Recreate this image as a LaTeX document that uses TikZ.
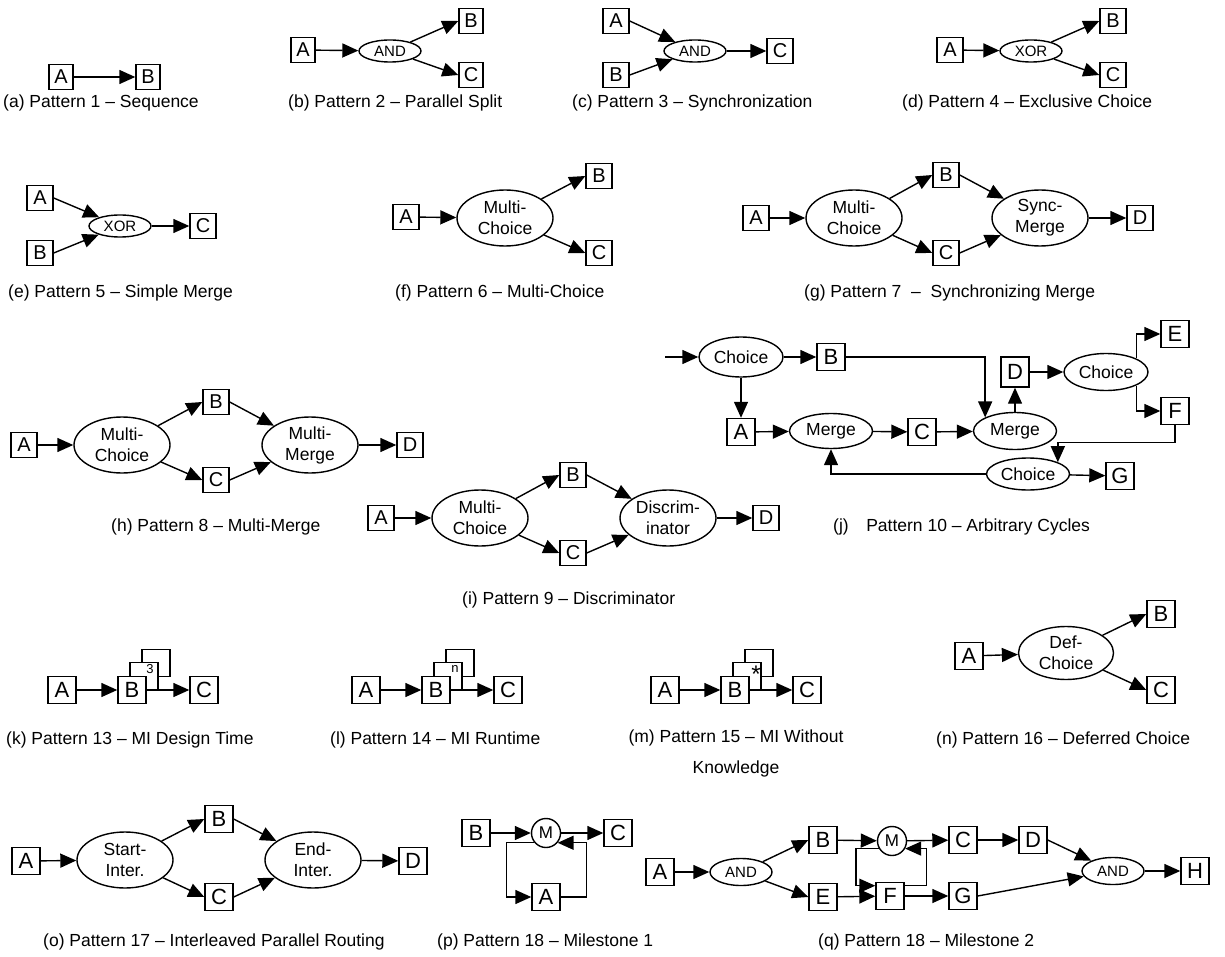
\documentclass[tikz,border=0pt]{standalone}
\usepackage{fontspec}
\setmainfont{Liberation Sans}
\usetikzlibrary{arrows.meta,shapes.geometric}
\newcommand\capsize{\fontsize{17.5}{21}\selectfont}
\tikzset{
  task/.style={draw,line width=1.4pt,fill=white,minimum width=26pt,minimum height=25pt,inner sep=0pt,font=\fontsize{20}{20}\selectfont},
  bigtask/.style={task,minimum width=28pt,minimum height=27pt,font=\fontsize{22}{22}\selectfont},
  gate/.style={draw,ellipse,line width=1.4pt,fill=white,inner sep=0pt,minimum width=62pt,minimum height=22pt,font=\fontsize{15}{15}\selectfont},
  choice/.style={draw,ellipse,line width=1.4pt,fill=white,inner sep=0pt,minimum width=96pt,minimum height=56pt,align=center,font=\fontsize{17.5}{21}\selectfont},
  mstone/.style={draw,circle,line width=1.4pt,fill=white,inner sep=0pt,minimum size=29pt,font=\fontsize{17}{17}\selectfont},
  flow/.style={-{Triangle[length=16pt,width=14pt]},line width=1.4pt},
  captext/.style={anchor=west,inner sep=0pt,font=\capsize},
}
\begin{document}
\begin{tikzpicture}[x=1pt,y=-1pt]
\useasboundingbox (0,0) rectangle (1225,957);

\node[task,minimum width=24pt] (aA) at (61,77) {A};
\node[task,minimum width=24pt] (aB) at (148,77) {B};
\draw[flow] (aA) -- (aB);
\node[captext] (aCap) at (3,103) {(a) Pattern 1 -- Sequence};

\node[task,minimum width=24pt] (bA) at (303,50) {A};
\node[gate] (bAnd) at (390,51) {AND};
\node[task,minimum width=24pt] (bB) at (471,21) {B};
\node[task,minimum width=24pt] (bC) at (471,75) {C};
\draw[flow] (bA) -- (bAnd);
\draw[flow] (bAnd) -- (bB.west);
\draw[flow] (bAnd) -- (bC.west);
\node[captext] (bCap) at (288,103) {(b) Pattern 2 -- Parallel Split};

\node[task] (cA) at (616,21) {A};
\node[task] (cB) at (616,75) {B};
\node[gate] (cAnd) at (695,51) {AND};
\node[task] (cC) at (780,51) {C};
\draw[flow] (cA.east) -- (cAnd);
\draw[flow] (cB.east) -- (cAnd);
\draw[flow] (cAnd) -- (cC);
\node[captext] (cCap) at (572,103) {(c) Pattern 3 -- Synchronization};

\node[task] (dA) at (950,50) {A};
\node[gate] (dXor) at (1031,51) {XOR};
\node[task] (dB) at (1113,21) {B};
\node[task] (dC) at (1113,75) {C};
\draw[flow] (dA) -- (dXor);
\draw[flow] (dXor) -- (dB.west);
\draw[flow] (dXor) -- (dC.west);
\node[captext] (dCap) at (902,103) {(d) Pattern 4 -- Exclusive Choice};

\node[task] (eA) at (40,198) {A};
\node[task] (eB) at (40,253) {B};
\node[gate] (eXor) at (120,226) {XOR};
\node[task] (eC) at (203,226) {C};
\draw[flow] (eA.east) -- (eXor);
\draw[flow] (eB.east) -- (eXor);
\draw[flow] (eXor) -- (eC);
\node[captext] (eCap) at (8,293) {(e) Pattern 5 -- Simple Merge};

\node[task] (fA) at (406,217) {A};
\node[choice] (fMC) at (505,218) {Multi-\\Choice};
\node[task] (fB) at (599,176) {B};
\node[task] (fC) at (599,253) {C};
\draw[flow] (fA) -- (fMC);
\draw[flow] (fMC) -- (fB.west);
\draw[flow] (fMC) -- (fC.west);
\node[captext] (fCap) at (395,293) {(f) Pattern 6 -- Multi-Choice};

\node[task] (gA) at (756,218) {A};
\node[choice] (gMC) at (854,218) {Multi-\\Choice};
\node[task] (gB) at (946,175) {B};
\node[task] (gC) at (946,253) {C};
\node[choice] (gSM) at (1040,218) {Sync-\\Merge};
\node[task] (gD) at (1140,218) {D};
\draw[flow] (gA) -- (gMC);
\draw[flow] (gMC) -- (gB.west);
\draw[flow] (gMC) -- (gC.west);
\draw[flow] (gB.east) -- (gSM);
\draw[flow] (gC.east) -- (gSM);
\draw[flow] (gSM) -- (gD);
\node[captext] (gCap) at (804,293) {(g) Pattern 7 ~--~ Synchronizing Merge};

\node[task] (hA) at (24,445) {A};
\node[choice] (hMC) at (122,445) {Multi-\\Choice};
\node[task] (hB) at (216,402) {B};
\node[task] (hC) at (216,480) {C};
\node[choice] (hMM) at (310,445) {Multi-\\Merge};
\node[task] (hD) at (410,445) {D};
\draw[flow] (hA) -- (hMC);
\draw[flow] (hMC) -- (hB.west);
\draw[flow] (hMC) -- (hC.west);
\draw[flow] (hB.east) -- (hMM);
\draw[flow] (hC.east) -- (hMM);
\draw[flow] (hMM) -- (hD);
\node[captext] (hCap) at (111,527) {(h) Pattern 8 -- Multi-Merge};

\node[task] (iA) at (381,518) {A};
\node[choice] (iMC) at (480,518) {Multi-\\Choice};
\node[task] (iB) at (573,475) {B};
\node[task] (iC) at (573,553) {C};
\node[choice] (iDI) at (668,518) {Discrim-\\inator};
\node[task] (iD) at (766,518) {D};
\draw[flow] (iA) -- (iMC);
\draw[flow] (iMC) -- (iB.west);
\draw[flow] (iMC) -- (iC.west);
\draw[flow] (iB.east) -- (iDI);
\draw[flow] (iC.east) -- (iDI);
\draw[flow] (iDI) -- (iD);
\node[captext] (iCap) at (462,600) {(i) Pattern 9 -- Discriminator};

\coordinate (jIn) at (665,357);
\node[choice,minimum width=84pt,minimum height=40pt] (jC1) at (741,357) {Choice};
\node[bigtask] (jB) at (831,357) {B};
\node[bigtask] (jA) at (741,432) {A};
\node[choice,minimum width=83pt,minimum height=35pt] (jM1) at (831,431) {Merge};
\node[bigtask] (jC) at (922,432) {C};
\node[choice,minimum width=83pt,minimum height=37pt] (jM2) at (1015,431) {Merge};
\node[bigtask,minimum height=30pt] (jD) at (1015,372) {D};
\node[choice,minimum width=84pt,minimum height=37pt] (jC2) at (1106,372) {Choice};
\node[bigtask] (jE) at (1175,334) {E};
\node[bigtask] (jF) at (1175,411) {F};
\node[choice,minimum width=83pt,minimum height=32pt] (jC3) at (1028,474) {Choice};
\node[bigtask] (jG) at (1120,476) {G};
\draw[flow] (jIn) -- (jC1);
\draw[flow] (jC1) -- (jB);
\draw[flow] (jC1) -- (jA);
\draw[flow] (jA) -- (jM1);
\draw[flow] (jM1) -- (jC);
\draw[flow] (jC) -- (jM2);
\draw[flow] (jB.east) -| (jM2.north west);
\draw[flow] (jM2) -- (jD);
\draw[flow] (jD) -- (jC2);
\draw[flow] (jC2.north east) |- (jE);
\draw[flow] (jC2.south east) |- (jF);
\draw[flow] (jF.south) -- ++(0,17) -| (jC3.north east);
\draw[flow] (jC3) -- (jG);
\draw[flow] (jC3.west) -| (jM1.south);
\node[captext] (jCap) at (833,527) {(j)\quad Pattern 10 -- Arbitrary Cycles};

\node[bigtask] (kA) at (62,690) {A};
\node[bigtask] (kB3) at (156,663) {};
\node[bigtask] (kB2) at (144,676) {};
\node[bigtask] (kB) at (132,690) {B};
\node (kN) at (150,669) {\fontsize{13}{13}\selectfont 3};
\node[bigtask] (kC) at (204,690) {C};
\draw[flow] (kA) -- (kB);
\draw[flow] (kB) -- (kC);
\node[captext] (kCap) at (6,740) {(k) Pattern 13 -- MI Design Time};

\node[bigtask] (lA) at (366,690) {A};
\node[bigtask] (lB3) at (460,663) {};
\node[bigtask] (lB2) at (448,676) {};
\node[bigtask] (lB) at (436,690) {B};
\node (lN) at (455,669) {\fontsize{13}{13}\selectfont n};
\node[bigtask] (lC) at (508,690) {C};
\draw[flow] (lA) -- (lB);
\draw[flow] (lB) -- (lC);
\node[captext] (lCap) at (330,740) {(l) Pattern 14 -- MI Runtime};

\node[bigtask] (mA) at (665,690) {A};
\node[bigtask] (mB3) at (759,663) {};
\node[bigtask] (mB2) at (747,676) {};
\node[bigtask] (mB) at (735,690) {B};
\node (mN) at (756,674) {\fontsize{24}{24}\selectfont *};
\node[bigtask] (mC) at (807,690) {C};
\draw[flow] (mA) -- (mB);
\draw[flow] (mB) -- (mC);
\node[font=\fontsize{17.5}{31}\selectfont,align=center,anchor=north,inner sep=0pt] (mCap) at (736,730) {(m) Pattern 15 -- MI Without\\Knowledge};

\node[bigtask] (nA) at (969,656) {A};
\node[choice,minimum width=95pt,minimum height=53pt] (nDC) at (1066,653) {Def-\\Choice};
\node[bigtask] (nB) at (1161,614) {B};
\node[bigtask] (nC) at (1161,690) {C};
\draw[flow] (nA) -- (nDC);
\draw[flow] (nDC) -- (nB.west);
\draw[flow] (nDC) -- (nC.west);
\node[captext] (nCap) at (936,740) {(n) Pattern 16 -- Deferred Choice};

\node[bigtask] (oA) at (26,861) {A};
\node[choice] (oSI) at (125,860) {Start-\\Inter.};
\node[bigtask] (oB) at (219,819) {B};
\node[bigtask] (oC) at (219,897) {C};
\node[choice] (oEI) at (313,860) {End-\\Inter.};
\node[bigtask] (oD) at (413,861) {D};
\draw[flow] (oA) -- (oSI);
\draw[flow] (oSI) -- (oB.west);
\draw[flow] (oSI) -- (oC.west);
\draw[flow] (oB.east) -- (oEI);
\draw[flow] (oC.east) -- (oEI);
\draw[flow] (oEI) -- (oD);
\node[captext] (oCap) at (43,942) {(o) Pattern 17 -- Interleaved Parallel Routing};

\node[bigtask] (pB) at (476,833) {B};
\node[mstone] (pM) at (546,833) {M};
\node[bigtask] (pC) at (618,833) {C};
\node[bigtask] (pA) at (546,897) {A};
\draw[flow] (pB) -- (pM);
\draw[flow] (pM) -- (pC);
\draw[flow] (pM.220) -- ++(-28,0) |- (pA.west);
\draw[flow] (pA.east) -- ++(26,0) |- (pM.-40);
\node[captext] (pCap) at (437,942) {(p) Pattern 18 -- Milestone 1};

\node[bigtask] (qA) at (660,872) {A};
\node[gate,minimum height=27pt] (qAnd1) at (741,872) {AND};
\node[bigtask] (qB) at (823,840) {B};
\node[bigtask] (qE) at (823,897) {E};
\node[mstone] (qM) at (892,841) {M};
\node[bigtask] (qC) at (963,840) {C};
\node[bigtask] (qD) at (1033,840) {D};
\node[bigtask] (qF) at (890,896) {F};
\node[bigtask] (qG) at (963,896) {G};
\node[gate,minimum height=27pt] (qAnd2) at (1113,871) {AND};
\node[bigtask] (qH) at (1195,871) {H};
\draw[flow] (qA) -- (qAnd1);
\draw[flow] (qAnd1) -- (qB.west);
\draw[flow] (qAnd1) -- (qE.west);
\draw[flow] (qB) -- (qM);
\draw[flow] (qM) -- (qC);
\draw[flow] (qC) -- (qD);
\draw[flow] (qD.east) -- (qAnd2);
\draw[flow] (qE) -- (qF);
\draw[flow] (qF) -- (qG);
\draw[flow] (qG.east) -- (qAnd2);
\draw[flow] (qAnd2) -- (qH);
\draw[flow] (qM.210) -- ++(-23,0) |- (qF.145);
\draw[flow] (qF.35) -- ++(22,0) |- (qM.-30);
\node[captext] (qCap) at (818,942) {(q) Pattern 18 -- Milestone 2};
\end{tikzpicture}
\end{document}
